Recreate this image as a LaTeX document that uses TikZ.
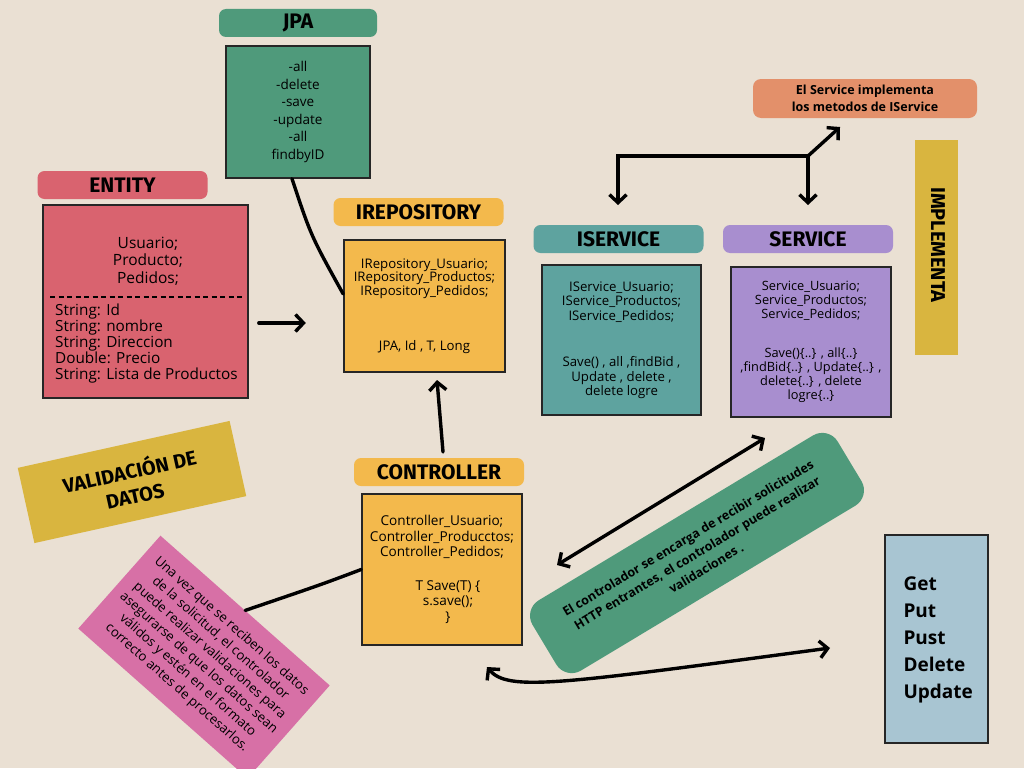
\documentclass[tikz,border=0pt]{standalone}
\usepackage{fontspec}
\setmainfont{Open Sans}
\newfontfamily\headfont{Fira Sans}
\usetikzlibrary{positioning,arrows.meta,calc}

\definecolor{bgcol}{HTML}{EAE0D3}
\definecolor{jpagreen}{HTML}{4F9A7B}
\definecolor{entpink}{HTML}{D9636F}
\definecolor{repoyellow}{HTML}{F3B94C}
\definecolor{iservteal}{HTML}{5EA39F}
\definecolor{servpurple}{HTML}{A88ECF}
\definecolor{noteorange}{HTML}{E3906A}
\definecolor{notepink}{HTML}{D770A6}
\definecolor{httpblue}{HTML}{A8C5D2}
\definecolor{goldfoil}{HTML}{D9B53F}

\begin{document}
\begin{tikzpicture}[
    x=1pt, y=-1pt,
    head/.style={rounded corners=7pt, minimum width=170pt, minimum height=28pt, inner sep=0pt,
                 font=\headfont\bfseries\fontsize{21}{21}\selectfont},
    box/.style={draw=black!85, line width=1.6pt, minimum width=160pt, minimum height=150pt,
                align=center, font=\fontsize{13.2}{14.5}\selectfont},
    note/.style={align=center, font=\bfseries\fontsize{12.5}{17}\selectfont},
    foil/.style={fill=goldfoil, inner sep=0pt, font=\headfont\bfseries\fontsize{20}{25}\selectfont},
    line/.style={line width=3.4pt, line cap=round},
    arr/.style={line, -{Straight Barb[length=8pt, width=17pt]}},
    both/.style={line, {Straight Barb[length=8pt, width=17pt]}-{Straight Barb[length=8pt, width=17pt]}},
]
\useasboundingbox (0,0) rectangle (1024,768);
\fill[bgcol] (0,0) rectangle (1024,768);

% boxes
\node[box, fill=jpagreen, minimum width=144pt, minimum height=132pt,
      font=\fontsize{13.5}{17.5}\selectfont] (jpa) at (298,112)
      {-all\\-delete\\-save\\-update\\-all\\findbyID};
\node[box, fill=entpink, minimum width=205pt, minimum height=193pt] (ent) at (145.5,301.5) {};
\node[box, fill=repoyellow, minimum width=161pt, minimum height=132pt, font=\fontsize{13.2}{13.5}\selectfont]
      (repo) at (424.5,306)
      {IRepository\_Usuario;\\IRepository\_Productos;\\IRepository\_Pedidos;\\[42pt]JPA, Id , T, Long};
\node[box, fill=iservteal, minimum width=159pt] (iserv) at (621.5,340)
      {IService\_Usuario;\\IService\_Productos;\\IService\_Pedidos;\\[32pt]
       Save() , all ,findBid ,\\Update , delete ,\\delete logre};
\node[box, fill=servpurple, font=\fontsize{12.8}{14}\selectfont] (serv) at (811,342)
      {Service\_Usuario;\\Service\_Productos;\\Service\_Pedidos;\\[25pt]
       Save()\{..\} , all\{..\}\\,findBid\{..\} , Update\{..\} ,\\delete\{..\} , delete\\logre\{..\}};
\node[box, fill=repoyellow, minimum height=151pt, font=\fontsize{13.6}{15.5}\selectfont] (ctrl) at (442,569.5)
      {Controller\_Usuario;\\Controller\_Producctos;\\Controller\_Pedidos;\\[18pt]
       \hspace*{12pt}T Save(T) \{\\\hspace*{12pt}s.save();\\\hspace*{12pt}\}};
\node[draw=black!85, line width=1.6pt, fill=httpblue, minimum width=103pt, minimum height=208pt,
      inner sep=0pt] (http) at (936.5,639) {};
\node[anchor=west, align=left, font=\bfseries\fontsize{19}{27}\selectfont] (verbs) at (900,640)
      {Get\\Put\\Pust\\Delete\\Update};

% entity content
\node[font=\fontsize{15.5}{17.5}\selectfont, align=center] (entnames) at (148,261)
      {Usuario;\\Producto;\\Pedidos;};
\draw[line width=1.3pt, dash pattern=on 5pt off 3.5pt] (50,297) -- (243,297);
\node[anchor=north west, align=left, inner sep=0pt, font=\fontsize{15.3}{16}\selectfont] (entattrs) at (55,304)
      {String: Id\\String: nombre\\String: Direccion\\Double: Precio\\String: Lista de Productos};

% headers
\node[head, fill=jpagreen, minimum width=158pt, above=8pt of jpa] (jpahead) {JPA};
\node[head, fill=entpink, above=5pt of ent, xshift=-23pt] (enthead) {ENTITY};
\node[head, fill=repoyellow, above=13pt of repo, xshift=-6pt] (repohead) {IREPOSITORY};
\node[head, fill=iservteal, above=11pt of iserv, xshift=-3pt] (iservhead) {ISERVICE};
\node[head, fill=servpurple, above=13pt of serv, xshift=-3pt] (servhead) {SERVICE};
\node[head, fill=repoyellow, above=7pt of ctrl, xshift=-3pt] (ctrlhead) {CONTROLLER};

% notes
\node[note, fill=noteorange, rounded corners=8pt, minimum width=224pt, minimum height=39pt,
      inner sep=0pt] (implnote) at (865,98.5)
      {El Service implementa\\los metodos de IService};
\node[note, fill=jpagreen, rounded corners=18pt, minimum width=356pt, minimum height=82pt,
      inner sep=0pt, rotate=31, font=\bfseries\fontsize{12.5}{17.5}\selectfont] (ctrlnote) at (697,553)
      {El controlador se encarga de recibir solicitudes\\HTTP entrantes, el controlador puede realizar\\validaciones .};
\node[fill=notepink, minimum width=226pt, minimum height=124pt, inner sep=0pt, align=center,
      rotate=-41.5, font=\fontsize{13.2}{16.5}\selectfont] (pinknote) at (204,657)
      {Una vez que se reciben los datos\\de la solicitud, el controlador\\puede realizar validaciones para\\
       asegurarse de que los datos sean\\válidos y estén en el formato\\correcto antes de procesarlos.};
\node[foil, minimum width=43pt, minimum height=215pt] (implfoil) at (936.5,247.5) {};
\node[rotate=-90, font=\headfont\bfseries\fontsize{20}{20}\selectfont] (impltext) at (938,245) {IMPLEMENTA};
\node[foil, minimum width=217pt, minimum height=77pt, rotate=12.5, align=center] (valfoil) at (132,482)
      {VALIDACIÓN DE\\DATOS};

% connectors
\coordinate (jR) at (808,156);
\coordinate (iservtip) at (618,205);
\coordinate (servtip) at (808,205);
\coordinate (impltip) at (840,127);
\coordinate (cs1) at (557,565);
\coordinate (cs2) at (765,438);
\coordinate (bl1) at (487,667);
\coordinate (bl2) at (830,648);
\coordinate (repotip) at (437,380);
\coordinate (ctrltail) at (443,452);
\draw[both] (iservtip) |- (jR) -- (servtip);
\draw[arr] (jR) -- (impltip);
\draw[arr] (ent.east |- 0,323) ++(10,0) -- ++(47,0);
\draw[arr] (ctrltail) -- (repotip);
\draw[line] (jpa.south -| 292,0) .. controls (311,236) .. (repo.west |- 0,294) ++(-7,0);
\draw[line] (ctrl.west) .. controls (320,585) .. (pinknote.north);
\draw[both] (cs1) -- (cs2);
\draw[both] (bl1) .. controls (508,692) and (560,684) .. (bl2);
\end{tikzpicture}
\end{document}
